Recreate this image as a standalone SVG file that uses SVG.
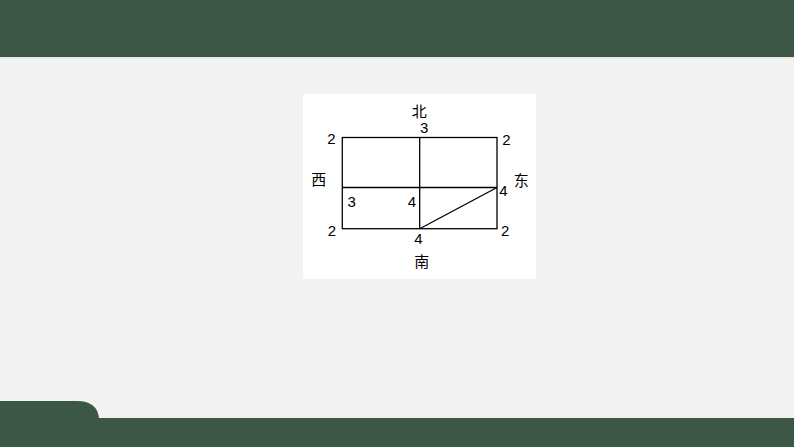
<svg xmlns="http://www.w3.org/2000/svg" width="794" height="447" viewBox="0 0 794 447">
  <style>
    .ln { stroke: #000; stroke-width: 1.3; fill: none; }
    .num { font-family: "Liberation Sans", Arial, sans-serif; font-size: 15px; fill: #000; text-anchor: middle; }
    .cn { font-family: "Noto Sans CJK SC", "Noto Sans", sans-serif; font-size: 15px; fill: #000; text-anchor: middle; dominant-baseline: central; }
  </style>
  <rect x="0" y="0" width="794" height="447" fill="#f2f2f2"/>
  <rect x="0" y="0" width="794" height="57" fill="#3d5747"/>
  <rect x="0" y="57" width="794" height="1.2" fill="#dfe9df"/>
  <path d="M0 401 H77 Q97 401 99 418 H794 V447 H0 Z" fill="#3d5747"/>
  <rect x="303" y="94" width="233" height="185" fill="#ffffff"/>
  <g id="connectors">
    <rect class="ln" x="342.3" y="137.5" width="154.7" height="91.2"/>
    <line class="ln" x1="419.7" y1="137.5" x2="419.7" y2="228.7"/>
    <line class="ln" x1="342.3" y1="187.5" x2="497" y2="187.5"/>
    <line class="ln" x1="419.7" y1="228.7" x2="497" y2="187.5"/>
  </g>
  <g id="labels">
    <text class="cn" x="419.2" y="110">北</text>
    <text class="cn" x="318.7" y="178">西</text>
    <text class="cn" x="521.2" y="179.7">东</text>
    <text class="cn" x="421.7" y="260.8">南</text>
    <text class="num" x="424.2" y="133">3</text>
    <text class="num" x="331.5" y="144">2</text>
    <text class="num" x="506.3" y="145">2</text>
    <text class="num" x="503.3" y="196">4</text>
    <text class="num" x="351.7" y="207.3">3</text>
    <text class="num" x="412" y="207.3">4</text>
    <text class="num" x="332" y="235.7">2</text>
    <text class="num" x="505.2" y="236">2</text>
    <text class="num" x="418.5" y="244">4</text>
  </g>
</svg>
